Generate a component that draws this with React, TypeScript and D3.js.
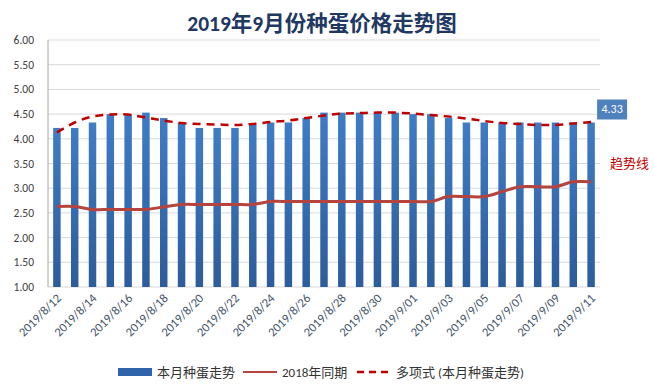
import React from "react";
import * as d3 from "d3";

const dates = [
  "2019/8/12", "2019/8/13", "2019/8/14", "2019/8/15", "2019/8/16", "2019/8/17", "2019/8/18",
  "2019/8/19", "2019/8/20", "2019/8/21", "2019/8/22", "2019/8/23", "2019/8/24", "2019/8/25",
  "2019/8/26", "2019/8/27", "2019/8/28", "2019/8/29", "2019/8/30", "2019/8/31", "2019/9/01",
  "2019/9/02", "2019/9/03", "2019/9/04", "2019/9/05", "2019/9/06", "2019/9/07", "2019/9/08",
  "2019/9/09", "2019/9/10", "2019/9/11",
];

// 本月种蛋走势
const price2019 = [
  4.22, 4.22, 4.33, 4.5, 4.5, 4.53, 4.42, 4.33, 4.22, 4.22, 4.22, 4.28, 4.33, 4.33, 4.42, 4.53,
  4.53, 4.53, 4.53, 4.53, 4.5, 4.5, 4.42, 4.33, 4.33, 4.33, 4.33, 4.33, 4.33, 4.33, 4.33,
];

// 2018年同期
const price2018 = [
  2.63, 2.63, 2.57, 2.57, 2.57, 2.57, 2.62, 2.67, 2.67, 2.67, 2.67, 2.67, 2.73, 2.73, 2.73, 2.73,
  2.73, 2.73, 2.73, 2.73, 2.73, 2.73, 2.83, 2.83, 2.83, 2.93, 3.03, 3.03, 3.03, 3.13, 3.13,
];

// 多项式 (本月种蛋走势)
const trend = [
  4.13, 4.33, 4.45, 4.49, 4.49, 4.43, 4.37, 4.32, 4.3, 4.29, 4.28, 4.3, 4.34, 4.37, 4.42, 4.47,
  4.51, 4.52, 4.53, 4.53, 4.51, 4.48, 4.45, 4.41, 4.36, 4.32, 4.3, 4.28, 4.28, 4.31, 4.34,
];

const yTicks = [1, 1.5, 2, 2.5, 3, 3.5, 4, 4.5, 5, 5.5, 6];

const width = 654;
const height = 392;
const margin = { top: 40, right: 54, bottom: 105, left: 48 };
const font = "Calibri, 'Liberation Sans', 'Noto Sans CJK SC', sans-serif";

const App = () => {
  const innerWidth = width - margin.left - margin.right;
  const innerHeight = height - margin.top - margin.bottom;

  const xScale = d3.scaleBand().domain(dates).range([0, innerWidth]).paddingInner(0.58).paddingOuter(0.29);
  const yScale = d3.scaleLinear().domain([1, 6]).range([innerHeight, 0]);
  const cx = (i) => xScale(dates[i]) + xScale.bandwidth() / 2;

  const line2018 = d3.line().x((d, i) => cx(i)).y((d) => yScale(d)).curve(d3.curveCatmullRom.alpha(0.5));
  const lineTrend = d3.line().x((d, i) => cx(i)).y((d) => yScale(d)).curve(d3.curveCatmullRom.alpha(0.5));

  const last = price2019.length - 1;

  return (
    <svg width={width} height={height} style={{ position: "absolute", left: 0, top: 0, background: "#fff" }}>
      <defs>
        <linearGradient id="barGrad" x1="0" y1="0" x2="0" y2="1">
          <stop offset="0%" stopColor="#3f7cc6" />
          <stop offset="100%" stopColor="#2c5c9c" />
        </linearGradient>
      </defs>
      <text x={322} y={31} textAnchor="middle" fontSize={21.5} fontWeight="bold" fill="#1f3864" fontFamily={font}>
        2019年9月份种蛋价格走势图
      </text>
      <g transform={`translate(${margin.left},${margin.top})`}>
        {yTicks.map((t) => (
          <g key={t}>
            <line x1={0} x2={innerWidth} y1={yScale(t)} y2={yScale(t)} stroke="#d9d9d9" strokeWidth={1} />
            <text x={-14} y={yScale(t)} dy="0.35em" textAnchor="end" fontSize={11.5} fill="#404040" fontFamily={font}>
              {t.toFixed(2)}
            </text>
          </g>
        ))}
        <line x1={0} x2={0} y1={0} y2={innerHeight} stroke="#a6a6a6" />
        {price2019.map((v, i) => (
          <rect
            key={dates[i]}
            x={xScale(dates[i])}
            y={yScale(v)}
            width={xScale.bandwidth()}
            height={innerHeight - yScale(v)}
            fill="url(#barGrad)"
          />
        ))}
        <path d={line2018(price2018)} fill="none" stroke="#b5443f" strokeWidth={3} />
        <path d={lineTrend(trend)} fill="none" stroke="#c00000" strokeWidth={2.5} strokeDasharray="8 6" />
        {dates.map((d, i) =>
          i % 2 === 0 ? (
            <text
              key={d}
              transform={`translate(${cx(i) + 5},${innerHeight + 12}) rotate(-45)`}
              textAnchor="end"
              fontSize={12.5}
              fill="#44546a"
              fontFamily={font}
            >
              {d}
            </text>
          ) : null
        )}
        <g transform={`translate(${cx(last) + 6},${yScale(price2019[last]) - 23})`}>
          <rect x={0} y={0} width={30} height={20} fill="#4f81bd" />
          <text x={15} y={14} textAnchor="middle" fontSize={12} fill="#fff" fontFamily={font}>
            {price2019[last].toFixed(2)}
          </text>
        </g>
        <text x={innerWidth + 10} y={yScale(3.4)} fontSize={13} fill="#c00000" fontFamily={font}>
          趋势线
        </text>
      </g>
      <g transform="translate(118,372)" fontFamily={font} fontSize={13} fill="#333">
        <rect x={0} y={-4} width={34} height={8} fill="#2f64aa" />
        <text x={39} y={0} dy="0.35em">本月种蛋走势</text>
        <line x1={125} x2={159} y1={0} y2={0} stroke="#b5443f" strokeWidth={2} />
        <text x={164} y={0} dy="0.35em">2018年同期</text>
        <line x1={239} x2={274} y1={0} y2={0} stroke="#c00000" strokeWidth={2.5} strokeDasharray="7 5" />
        <text x={278} y={0} dy="0.35em">多项式 (本月种蛋走势)</text>
      </g>
    </svg>
  );
};

export default App;
